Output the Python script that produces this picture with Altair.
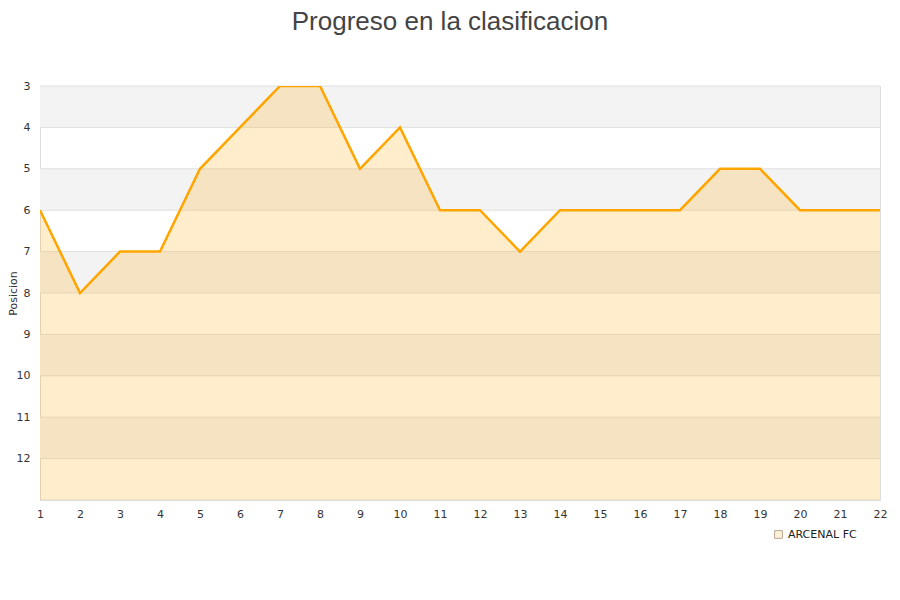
import altair as alt
import pandas as pd

jornadas = list(range(1, 23))
posiciones = [6, 8, 7, 7, 5, 4, 3, 3, 5, 4, 6, 6, 7, 6, 6, 6, 6, 5, 5, 6, 6, 6]
equipo = "ARCENAL FC"
y_ticks = list(range(3, 13))
band_starts = [3, 5, 7, 9, 11]
grid_lines = list(range(3, 14))

df = pd.DataFrame({"jornada": jornadas, "posicion": posiciones, "equipo": equipo, "base": 13})
bands = pd.DataFrame({"y": band_starts, "y2": [b + 1 for b in band_starts], "x": 1, "x2": 22})
grid = pd.DataFrame({"y": grid_lines})

yscale = alt.Scale(domain=[3, 13], reverse=True, nice=False, zero=False)
xscale = alt.Scale(domain=[1, 22], nice=False, zero=False)
xaxis = alt.Axis(values=jornadas, title=None, labelPadding=8, format="d",
                 labelOverlap=False, labelFlush=False)
yaxis = alt.Axis(values=y_ticks, title="Posicion", labelPadding=10, format="d",
                 labelOverlap=False, labelFlush=False, titleX=-22, titleY=207)


def X(field):
    return alt.X(field, scale=xscale, axis=xaxis)


def Y(field):
    return alt.Y(field, scale=yscale, axis=yaxis)


band_layer = alt.Chart(bands).mark_rect(color="#f3f3f3").encode(
    x=X("x:Q"), x2="x2:Q", y=Y("y:Q"), y2="y2:Q",
)

grid_layer = alt.Chart(grid).mark_rule(color="#e0e0e0", strokeWidth=1).encode(
    y=Y("y:Q")
)

area_layer = alt.Chart(df).mark_area(opacity=0.2, interpolate="linear", color="#ffa500").encode(
    x=X("jornada:Q"), y=Y("posicion:Q"), y2="base:Q",
)

line_layer = alt.Chart(df).mark_line(color="#ffa500", strokeWidth=2.5, clip=True).encode(
    x=X("jornada:Q"), y=Y("posicion:Q"),
)

legend_layer = alt.Chart(df).mark_square(size=0, filled=True, stroke="#a08060", strokeWidth=1).encode(
    x=X("jornada:Q"), y=Y("posicion:Q"),
    fill=alt.Fill("equipo:N", scale=alt.Scale(domain=[equipo], range=["#ffedcc"]),
                  legend=alt.Legend(title=None, orient="none", legendX=733, legendY=443,
                                    symbolType="square", symbolSize=60,
                                    symbolStrokeColor="#a08060", symbolStrokeWidth=1,
                                    labelFontSize=11, labelColor="#222222",
                                    labelFont="DejaVu Sans")),
)

chart = alt.layer(band_layer, grid_layer, area_layer, line_layer, legend_layer).properties(
    width=840,
    height=414,
    autosize=alt.AutoSizeParams(type="none"),
    padding={"left": 32, "top": 78, "right": 10, "bottom": 80},
    title=alt.TitleParams("Progreso en la clasificacion", fontSize=26, font="Liberation Sans",
                          fontWeight="normal", color="#444444", anchor="middle",
                          offset=45, dx=-10),
).configure_view(stroke="#dddddd", strokeWidth=1).configure_axis(
    grid=False, domain=False, ticks=False, labelOverlap=False, labelFlush=False,
    labelFontSize=11, labelColor="#333333", labelFont="DejaVu Sans",
    titleFont="DejaVu Sans", titleFontSize=11, titleFontWeight="normal", titleColor="#333333",
)

chart.save("out.html", embed_options={"renderer": "svg", "actions": False})
